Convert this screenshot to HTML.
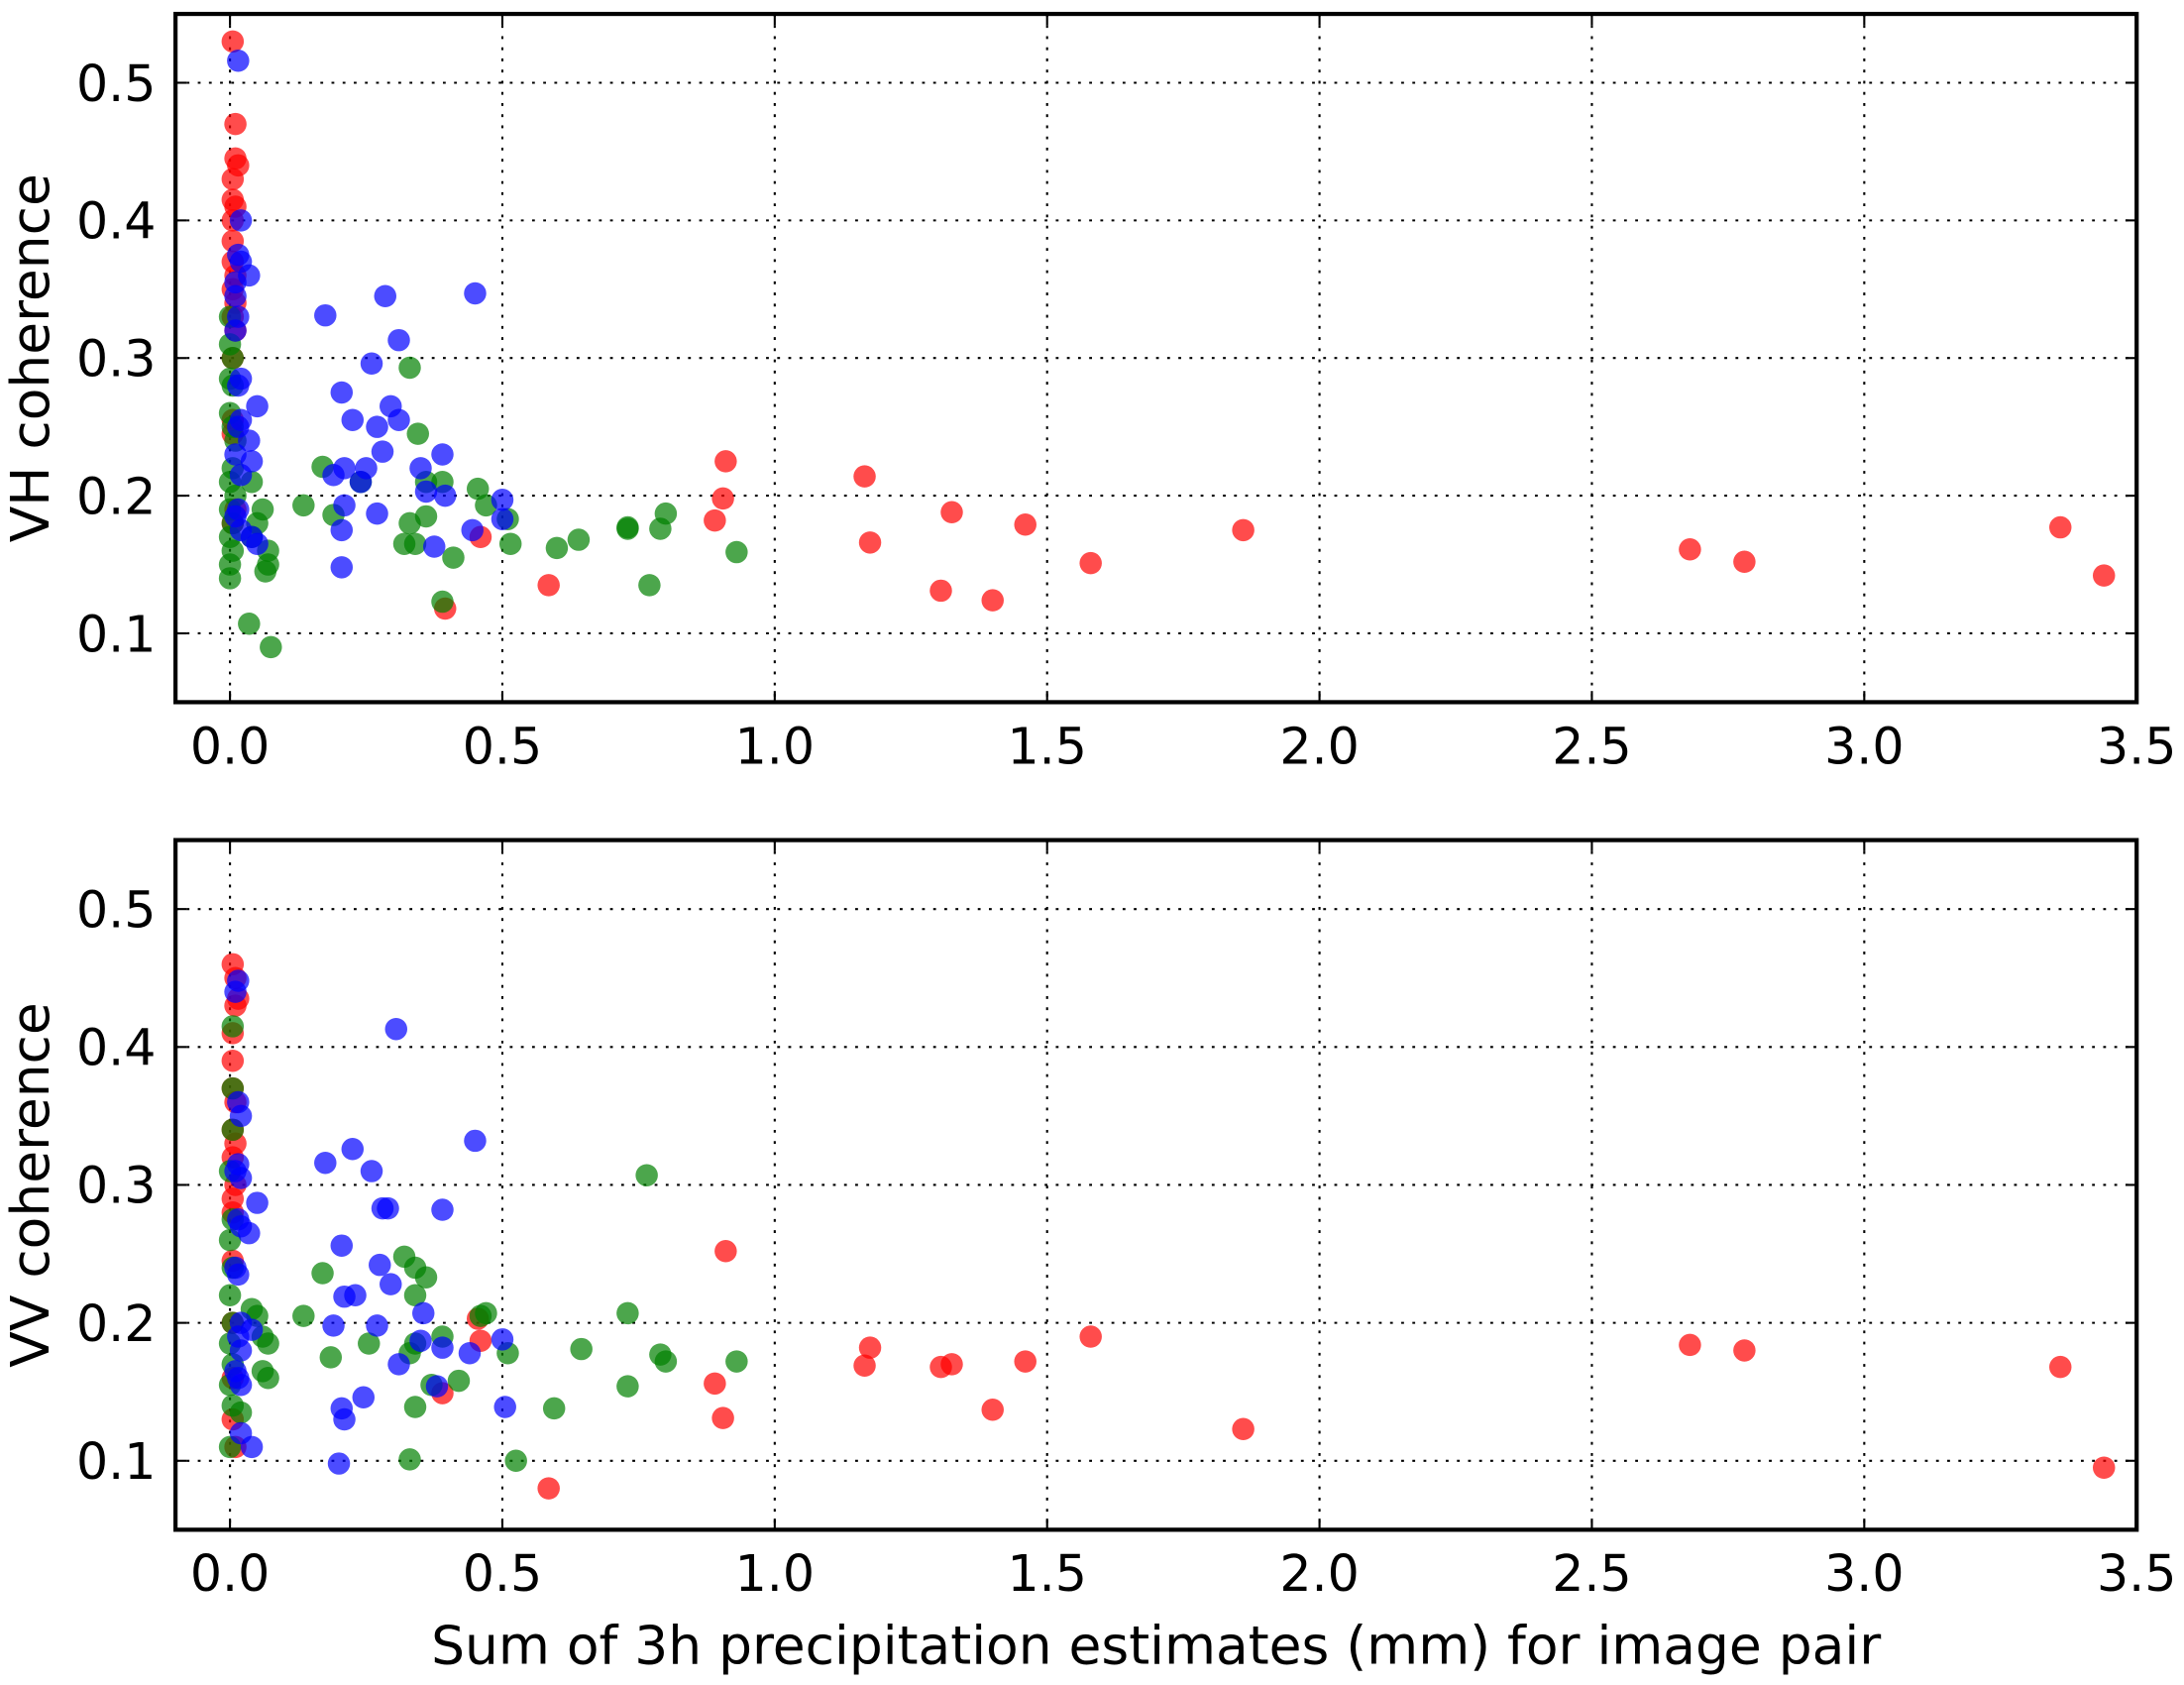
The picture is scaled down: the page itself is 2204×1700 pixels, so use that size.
<!DOCTYPE html>
<html><head><meta charset="utf-8"><style>
html,body{margin:0;padding:0;background:#fff;}
svg{display:block;}
text{font-family:"DejaVu Sans","Liberation Sans",sans-serif;fill:#000;}
</style></head><body>
<svg id="chart" width="2204" height="1700" viewBox="0 0 1568 1209.44" xmlns="http://www.w3.org/2000/svg"></svg>
<script>
const xTicks = [0.0, 0.5, 1.0, 1.5, 2.0, 2.5, 3.0, 3.5];
const xTickLabels = ["0.0","0.5","1.0","1.5","2.0","2.5","3.0","3.5"];
const yTicks = [0.1, 0.2, 0.3, 0.4, 0.5];
const yTickLabels = ["0.1","0.2","0.3","0.4","0.5"];
const seriesNames = ["red","green","blue"];

const vhRed = [[0.005,0.53],[0.01,0.47],[0.01,0.445],[0.015,0.44],[0.005,0.43],[0.005,0.415],[0.01,0.41],[0.005,0.40],[0.005,0.385],[0.005,0.37],[0.01,0.36],[0.005,0.35],[0.01,0.34],[0.005,0.33],[0.01,0.32],[0.005,0.30],[0.005,0.255],[0.005,0.245],[0.01,0.19],[0.005,0.18],[0.46,0.17],[0.395,0.118],[0.585,0.135],[0.89,0.182],[0.905,0.198],[0.91,0.225],[1.165,0.214],[1.175,0.166],[1.305,0.131],[1.325,0.188],[1.4,0.124],[1.46,0.179],[1.58,0.151],[1.86,0.175],[2.68,0.161],[2.78,0.152],[3.36,0.177],[3.44,0.142]];
const vhBlue = [[0.015,0.516],[0.02,0.40],[0.015,0.375],[0.02,0.37],[0.035,0.36],[0.01,0.355],[0.01,0.345],[0.015,0.33],[0.01,0.32],[0.02,0.285],[0.015,0.28],[0.05,0.265],[0.02,0.255],[0.015,0.25],[0.035,0.24],[0.04,0.225],[0.01,0.23],[0.02,0.215],[0.015,0.19],[0.01,0.185],[0.02,0.175],[0.04,0.17],[0.05,0.165],[0.175,0.331],[0.285,0.345],[0.31,0.313],[0.26,0.296],[0.205,0.275],[0.27,0.25],[0.295,0.265],[0.31,0.255],[0.225,0.255],[0.28,0.232],[0.25,0.22],[0.35,0.22],[0.39,0.23],[0.19,0.215],[0.24,0.21],[0.21,0.22],[0.36,0.203],[0.395,0.2],[0.21,0.193],[0.27,0.187],[0.205,0.175],[0.375,0.163],[0.205,0.148],[0.445,0.175],[0.45,0.347],[0.5,0.197],[0.5,0.183]];
const vhGreen = [[0.0,0.33],[0.0,0.31],[0.005,0.30],[0.0,0.285],[0.005,0.28],[0.0,0.26],[0.005,0.25],[0.01,0.24],[0.005,0.22],[0.0,0.21],[0.01,0.20],[0.0,0.19],[0.005,0.18],[0.0,0.17],[0.005,0.16],[0.0,0.15],[0.0,0.14],[0.04,0.21],[0.06,0.19],[0.05,0.18],[0.04,0.17],[0.07,0.16],[0.07,0.15],[0.065,0.145],[0.035,0.107],[0.075,0.09],[0.135,0.193],[0.17,0.221],[0.19,0.186],[0.24,0.21],[0.33,0.293],[0.345,0.245],[0.36,0.21],[0.39,0.21],[0.36,0.185],[0.33,0.18],[0.32,0.165],[0.34,0.165],[0.41,0.155],[0.39,0.123],[0.455,0.205],[0.47,0.193],[0.51,0.183],[0.515,0.165],[0.6,0.162],[0.64,0.168],[0.73,0.177],[0.73,0.176],[0.77,0.135],[0.79,0.176],[0.8,0.187],[0.93,0.159]];

const vvRed = [[0.005,0.46],[0.01,0.45],[0.015,0.435],[0.01,0.43],[0.005,0.41],[0.005,0.39],[0.005,0.37],[0.01,0.36],[0.005,0.34],[0.01,0.33],[0.005,0.32],[0.01,0.30],[0.005,0.29],[0.005,0.28],[0.005,0.245],[0.005,0.2],[0.005,0.16],[0.005,0.13],[0.01,0.11],[0.46,0.187],[0.455,0.203],[0.39,0.149],[0.585,0.08],[0.89,0.156],[0.905,0.131],[0.91,0.252],[1.165,0.169],[1.175,0.182],[1.305,0.168],[1.325,0.17],[1.4,0.137],[1.46,0.172],[1.58,0.19],[1.86,0.123],[2.68,0.184],[2.78,0.18],[3.36,0.168],[3.44,0.095]];
const vvBlue = [[0.015,0.448],[0.01,0.44],[0.02,0.35],[0.015,0.36],[0.015,0.315],[0.01,0.31],[0.02,0.305],[0.05,0.287],[0.015,0.275],[0.02,0.27],[0.035,0.265],[0.01,0.24],[0.015,0.235],[0.02,0.2],[0.04,0.195],[0.015,0.19],[0.02,0.18],[0.015,0.16],[0.02,0.155],[0.01,0.165],[0.02,0.12],[0.04,0.11],[0.175,0.316],[0.225,0.326],[0.26,0.31],[0.305,0.413],[0.28,0.283],[0.29,0.283],[0.205,0.256],[0.275,0.242],[0.295,0.228],[0.21,0.219],[0.23,0.22],[0.27,0.198],[0.19,0.198],[0.355,0.207],[0.39,0.282],[0.45,0.332],[0.35,0.187],[0.39,0.182],[0.31,0.17],[0.44,0.178],[0.38,0.154],[0.245,0.146],[0.205,0.138],[0.21,0.13],[0.2,0.098],[0.5,0.188],[0.505,0.139]];
const vvGreen = [[0.005,0.415],[0.005,0.37],[0.005,0.34],[0.0,0.31],[0.005,0.275],[0.0,0.26],[0.005,0.24],[0.0,0.22],[0.005,0.2],[0.0,0.185],[0.005,0.17],[0.0,0.155],[0.005,0.14],[0.0,0.11],[0.02,0.135],[0.04,0.21],[0.05,0.205],[0.06,0.19],[0.07,0.185],[0.06,0.165],[0.07,0.16],[0.135,0.205],[0.17,0.236],[0.185,0.175],[0.255,0.185],[0.32,0.248],[0.34,0.24],[0.34,0.22],[0.36,0.233],[0.39,0.19],[0.34,0.185],[0.33,0.178],[0.34,0.139],[0.33,0.101],[0.37,0.155],[0.42,0.158],[0.46,0.205],[0.47,0.207],[0.51,0.178],[0.525,0.1],[0.595,0.138],[0.645,0.181],[0.73,0.207],[0.73,0.154],[0.765,0.307],[0.79,0.177],[0.8,0.172],[0.93,0.172]];

const NS = "http://www.w3.org/2000/svg";
const svg = document.getElementById("chart");
const X0 = 126, X1 = 1534, XMIN = -0.1, XMAX = 3.5;
const YMIN = 0.05, YMAX = 0.55;
function xScale(v){ return X0 + (v - XMIN) / (XMAX - XMIN) * (X1 - X0); }
function mk(tag, attrs, parent){ const e = document.createElementNS(NS, tag); for (const k in attrs) e.setAttribute(k, attrs[k]); (parent||svg).appendChild(e); return e; }
const colors = {red:"#ff0000", green:"#008000", blue:"#0000ff"};

function panel(name, top, bottom, ylabel, series, showXLabel){
  const g = mk("g", {});
  
  
  const yScale = v => bottom - (v - YMIN) / (YMAX - YMIN) * (bottom - top);
  xTicks.forEach((t,i)=>{
    const x = xScale(t);
    const l = mk("line", {x1:x, x2:x, y1:top, y2:bottom, stroke:"#000", "stroke-width":1.5, "stroke-dasharray":"2 6"}, g);
    
    
    mk("line", {x1:x, x2:x, y1:bottom, y2:bottom-8, stroke:"#000", "stroke-width":1.5}, g);
    mk("line", {x1:x, x2:x, y1:top, y2:top+8, stroke:"#000", "stroke-width":1.5}, g);
    const tx = mk("text", {x:x, y:bottom+44, "font-size":36, "text-anchor":"middle"}, g);
    tx.textContent = xTickLabels[i];
    
    
  });
  yTicks.forEach((t,i)=>{
    const y = yScale(t);
    const l = mk("line", {x1:X0, x2:X1, y1:y, y2:y, stroke:"#000", "stroke-width":1.5, "stroke-dasharray":"2 6"}, g);
    
    
    mk("line", {x1:X0, x2:X0+8, y1:y, y2:y, stroke:"#000", "stroke-width":1.5}, g);
    mk("line", {x1:X1, x2:X1-8, y1:y, y2:y, stroke:"#000", "stroke-width":1.5}, g);
    const ty = mk("text", {x:X0-14, y:y+13, "font-size":36, "text-anchor":"end"}, g);
    ty.textContent = yTickLabels[i];
    
    
  });
  series.forEach((pts, si)=>{
    const sg = mk("g", {}, g);
    
    
    pts.forEach(p=>{
      const c = mk("circle", {cx:xScale(p[0]), cy:yScale(p[1]), r:8, fill:colors[seriesNames[si]], "fill-opacity":0.7}, sg);
      
      
    });
  });
  const fr = mk("rect", {x:X0, y:top, width:X1-X0, height:bottom-top, fill:"none", stroke:"#000", "stroke-width":3}, g);
  
  
  const yl = mk("text", {x:0, y:0, "font-size":38, "text-anchor":"middle", transform:"translate(35," + ((top+bottom)/2) + ") rotate(-90)"}, g);
  yl.textContent = ylabel;
  
  
  if (showXLabel){
    const xl = mk("text", {x:(X0+X1)/2 - 0, y:bottom+96, "font-size":38, "text-anchor":"middle"}, g);
    xl.textContent = "Sum of 3h precipitation estimates (mm) for image pair";
    
    
  }
}
panel("vh", 10, 504, "VH coherence", [vhRed, vhGreen, vhBlue], false);
panel("vv", 603, 1098, "VV coherence", [vvRed, vvGreen, vvBlue], true);
</script>
</body></html>
